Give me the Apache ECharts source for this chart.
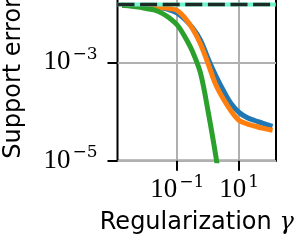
<!DOCTYPE html>
<html>
<head>
<meta charset="utf-8">
<script src="https://cdn.jsdelivr.net/npm/echarts@6/dist/echarts.min.js"></script>
<style>
html,body{margin:0;padding:0;background:#fff;}
#c{width:297px;height:243px;}
</style>
</head>
<body>
<div id="c"></div>
<script>
// Regularization gamma values (x)
var gammas = [2.0e-3, 3.16e-3, 5.62e-3, 1e-2, 1.78e-2, 3.16e-2, 5.62e-2, 0.1, 0.178, 0.316, 0.562, 1, 1.78, 3.16, 5.62, 10, 17.8, 31.6, 56.2, 100];
// Support error series
var blueErr = [1.43e-2, 1.42e-2, 1.40e-2, 1.37e-2, 1.33e-2, 1.27e-2, 1.17e-2, 1.00e-2, 7.41e-3, 4.98e-3, 2.84e-3, 1.17e-3, 5.27e-4, 2.61e-4, 1.42e-4, 9.55e-5, 7.55e-5, 6.56e-5, 5.83e-5, 5.19e-5];
var orangeErr = [1.43e-2, 1.43e-2, 1.41e-2, 1.39e-2, 1.36e-2, 1.30e-2, 1.24e-2, 1.13e-2, 7.94e-3, 4.75e-3, 2.36e-3, 9.23e-4, 3.44e-4, 1.75e-4, 1.0e-4, 6.56e-5, 5.62e-5, 5.07e-5, 4.58e-5, 4.25e-5];
var greenErr = [1.43e-2, 1.39e-2, 1.33e-2, 1.24e-2, 1.16e-2, 1.00e-2, 7.94e-3, 5.73e-3, 3.27e-3, 1.62e-3, 6.07e-4, 9.77e-5, 1.19e-5, 1.0e-6];
var referenceLevel = 0.015;
// axis ranges and tick values
var xAxisMin = Math.pow(10, -2.93), xAxisMax = Math.pow(10, 2.19);
var yAxisMin = 1e-5, yAxisMax = Math.pow(10, -1.652);
var xTicks = [0.1, 10];
var yTicks = [1e-5, 1e-3];

function pairs(xs, ys) {
  var out = [];
  for (var i = 0; i < ys.length; i++) out.push([xs[i], ys[i]]);
  return out;
}
function powLabel(v) {
  var e = Math.round(Math.log10(v));
  return '{b|10}{s|' + (e < 0 ? '\u2212' : '') + Math.abs(e) + '}';
}
var labelRich = {
  b: {fontFamily: 'Liberation Serif', fontSize: 27, lineHeight: 27, color: '#000', verticalAlign: 'bottom'},
  s: {fontFamily: 'DejaVu Serif', fontSize: 17, lineHeight: 17, color: '#000', verticalAlign: 'bottom', padding: [0, 0, 13, 2]}
};

var chart = echarts.init(document.getElementById('c'), null, {renderer: 'canvas'});
function lineSeries(data, color, z) {
  return {
    type: 'line', data: data, showSymbol: false, symbol: 'none', z: z, clip: true, smooth: 0.35,
    lineStyle: {color: color, width: 5, cap: 'square', join: 'round'},
    animation: false
  };
}
chart.setOption({
  animation: false,
  grid: {left: 117.5, right: 21, top: -4, bottom: 82.3, show: true, borderColor: '#000', borderWidth: 2,
         containLabel: false, outerBoundsMode: 'none'},
  xAxis: {
    type: 'log', min: xAxisMin, max: xAxisMax,
    name: '{a|Regularization }{g|\u03b3}', nameLocation: 'middle', nameGap: 50,
    nameTextStyle: {rich: {
      a: {fontFamily: 'DejaVu Sans', fontSize: 24, color: '#000'},
      g: {fontFamily: 'DejaVu Serif', fontStyle: 'italic', fontSize: 24, color: '#000'}
    }},
    axisLine: {show: false},
    axisTick: {show: true, customValues: xTicks, length: 10, inside: false, lineStyle: {color: '#000', width: 2}},
    minorTick: {show: false},
    axisLabel: {customValues: xTicks, formatter: powLabel, rich: labelRich, margin: 16},
    splitLine: {show: true, lineStyle: {color: '#b0b0b0', width: 2}}
  },
  yAxis: {
    type: 'log', min: yAxisMin, max: yAxisMax,
    name: 'Support error', nameLocation: 'middle', nameGap: 92, nameRotate: 90,
    nameTextStyle: {fontFamily: 'DejaVu Sans', fontSize: 24, color: '#000'},
    axisLine: {show: false},
    axisTick: {show: true, customValues: yTicks, length: 10, inside: false, lineStyle: {color: '#000', width: 2}},
    minorTick: {show: false},
    axisLabel: {customValues: yTicks, formatter: powLabel, rich: labelRich, margin: 20},
    splitLine: {show: true, lineStyle: {color: '#b0b0b0', width: 2}}
  },
  series: [
    lineSeries(pairs(gammas, blueErr), '#1f77b4', 2),
    lineSeries(pairs(gammas, orangeErr), '#ff7f0e', 3),
    lineSeries(pairs(gammas, greenErr), '#2ca02c', 4),
    {
      type: 'line', z: 5, showSymbol: false, symbol: 'none', animation: false,
      data: [[xAxisMin, referenceLevel], [xAxisMax, referenceLevel]],
      lineStyle: {color: '#70f5cc', width: 4, type: 'solid'}
    },
    {
      type: 'line', z: 6, showSymbol: false, symbol: 'none', animation: false,
      data: [[xAxisMin, referenceLevel], [xAxisMax, referenceLevel]],
      lineStyle: {color: '#1c2b26', width: 3.5, type: [17, 5.6]}
    }
  ]
});
</script>
</body>
</html>
